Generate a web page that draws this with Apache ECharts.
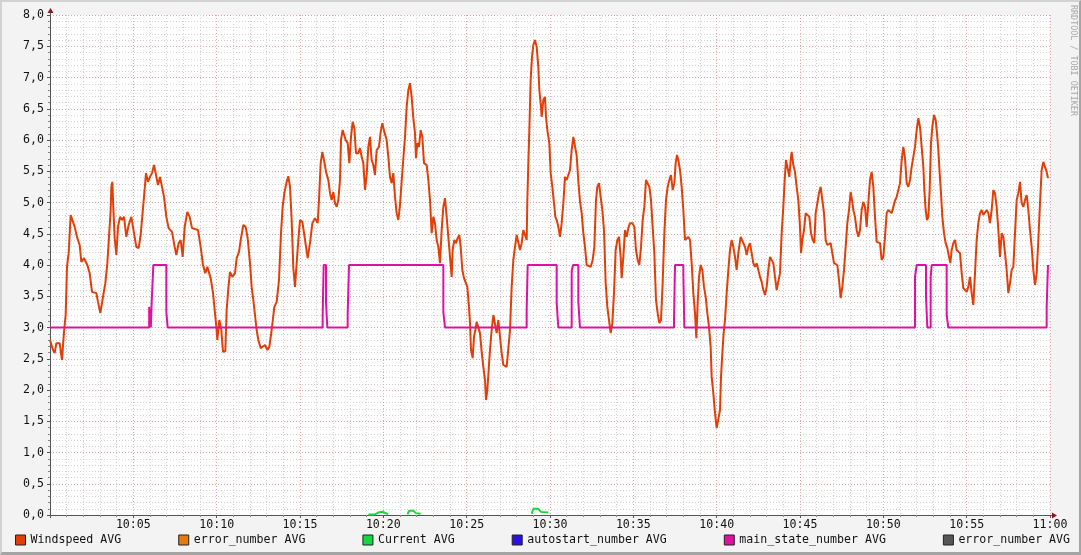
<!DOCTYPE html>
<html>
<head>
<meta charset="utf-8">
<script src="https://cdn.jsdelivr.net/npm/echarts/dist/echarts.min.js"></script>
<style>
html,body{margin:0;padding:0;background:#f3f3f3;}
#wrap{position:relative;width:1081px;height:555px;}
#c{position:absolute;left:0;top:0;width:1081px;height:555px;}
#frame{position:absolute;left:0;top:0;width:1081px;height:555px;box-sizing:border-box;border-style:solid;border-width:2px 2px 3px 2px;border-color:#d2d2d2 #a4a4a4 #a4a4a4 #d2d2d2;pointer-events:none;}
</style>
</head>
<body>
<div id="wrap"><div id="c"></div><div id="frame"></div></div>
<script>
// minutes after 10:00, value
const windspeed = [
[0,2.8],[0.08,2.77],[0.18,2.64],[0.28,2.59],[0.38,2.75],[0.58,2.75],[0.72,2.48],[0.84,2.93],[0.94,3.2],[1.02,3.97],[1.12,4.19],[1.24,4.8],[1.32,4.83],[1.48,4.61],[1.64,4.43],[1.78,4.32],[1.88,4.05],[2.04,4.11],[2.24,4.0],[2.38,3.87],[2.52,3.57],[2.78,3.55],[2.88,3.41],[3.02,3.23],[3.18,3.49],[3.32,3.71],[3.44,4.03],[3.54,4.45],[3.64,4.88],[3.68,5.25],[3.74,5.33],[3.8,4.91],[3.88,4.43],[3.98,4.16],[4.08,4.61],[4.2,4.77],[4.32,4.72],[4.44,4.77],[4.58,4.45],[4.72,4.64],[4.88,4.77],[5.04,4.51],[5.18,4.29],[5.32,4.27],[5.44,4.48],[5.64,5.09],[5.76,5.47],[5.88,5.33],[6.0,5.41],[6.12,5.47],[6.24,5.6],[6.36,5.6],[6.48,5.28],[6.6,5.41],[6.72,5.39],[6.84,5.09],[6.98,4.77],[7.12,4.59],[7.32,4.53],[7.48,4.29],[7.58,4.16],[7.72,4.35],[7.84,4.4],[7.96,4.13],[8.08,4.61],[8.24,4.85],[8.38,4.77],[8.52,4.59],[8.88,4.56],[9.04,4.29],[9.18,4.0],[9.32,3.87],[9.44,3.97],[9.64,3.79],[9.78,3.55],[9.88,3.28],[9.98,3.01],[10.04,2.8],[10.16,3.12],[10.28,2.96],[10.38,2.61],[10.52,2.62],
[10.6,3.28],[10.7,3.63],[10.8,3.89],[10.94,3.81],[11.1,3.87],[11.2,4.11],[11.34,4.21],[11.46,4.43],[11.6,4.64],[11.74,4.61],[11.86,4.43],[12.0,4.03],[12.1,3.65],[12.2,3.44],[12.3,3.2],[12.4,2.96],[12.5,2.8],[12.64,2.67],[12.76,2.67],[12.9,2.72],[13.04,2.64],[13.16,2.69],[13.3,2.96],[13.46,3.33],[13.6,3.41],[13.74,3.76],[13.86,4.51],[13.96,4.93],[14.06,5.15],[14.2,5.33],[14.3,5.42],[14.4,5.25],[14.5,4.72],[14.6,3.95],[14.7,3.65],[14.8,4.03],[14.9,4.4],[15.0,4.72],[15.14,4.69],[15.26,4.48],[15.34,4.51],[15.46,4.11],[15.6,4.35],[15.74,4.67],[15.9,4.75],[16.06,4.67],[16.14,5.04],[16.24,5.63],[16.34,5.81],[16.46,5.65],[16.56,5.49],[16.7,5.36],[16.8,5.15],[16.9,5.04],[17.0,5.17],[17.1,4.99],[17.2,4.93],[17.3,5.04],[17.4,5.36],[17.46,6.0],[17.56,6.16],[17.66,6.16],[17.74,6.0],[17.86,5.95],[17.96,5.63],[18.06,6.05],[18.16,6.29],[18.26,6.19],[18.36,5.79],[18.5,5.79],[18.6,5.87],[18.7,5.73],[18.8,5.63],[18.9,5.2],[19.0,5.44],[19.1,5.89],[19.2,6.05],[19.3,5.68],[19.4,5.6],[19.5,5.44],[19.6,5.84],[19.74,5.89],[19.84,6.13],[19.94,6.27],[20.06,6.13],[20.2,6.0],[20.3,5.73],[20.4,5.41],[20.5,5.31],[20.6,5.47],[20.7,5.09],[20.8,4.83],[20.9,4.72],[21.0,4.96],[21.1,5.34],[21.2,5.7],
[21.3,6.05],[21.4,6.53],[21.5,6.8],[21.6,6.91],[21.7,6.69],[21.8,6.35],[21.9,6.11],[21.96,5.71],[22.04,5.95],[22.14,5.89],[22.24,6.16],[22.34,6.05],[22.44,5.63],[22.6,5.6],[22.7,5.36],[22.8,5.04],[22.9,4.51],[23.0,4.77],[23.1,4.67],[23.2,4.4],[23.3,4.29],[23.4,4.03],[23.5,4.56],[23.6,4.93],[23.7,5.07],[23.8,4.77],[23.9,4.45],[24.0,4.13],[24.1,3.81],[24.16,4.24],[24.26,4.4],[24.36,4.35],[24.46,4.43],[24.56,4.48],[24.64,4.29],[24.74,3.92],[24.84,3.79],[24.94,3.76],[25.04,3.65],[25.14,3.33],[25.2,3.07],[25.26,2.64],[25.36,2.51],[25.44,2.85],[25.52,2.96],[25.6,3.09],[25.7,3.12],[25.8,2.91],[25.9,2.61],[26.0,2.37],[26.1,2.16],[26.16,1.84],[26.24,2.0],[26.32,2.32],[26.4,2.64],[26.5,2.96],[26.6,3.2],[26.7,3.2],[26.8,2.91],[26.9,3.12],[27.0,2.85],[27.1,2.59],[27.2,2.4],[27.3,2.43],[27.4,2.37],[27.5,2.35],[27.6,2.96],[27.7,3.65],[27.8,4.08],[27.9,4.29],[28.0,4.48],[28.1,4.45],[28.2,4.24],[28.3,4.35],[28.4,4.56],[28.5,4.56],[28.6,4.4],[28.64,5.04],[28.7,5.63],[28.76,6.16],[28.84,6.96],[28.92,7.33],[29.0,7.52],[29.1,7.6],[29.2,7.49],[29.3,7.17],[29.36,6.8],[29.44,6.59],[29.5,6.37],[29.6,6.64],[29.7,6.69],[29.76,6.37],[29.84,6.16],[29.96,5.95],[30.04,5.47],[30.14,5.25],[30.24,4.99],[30.32,4.77],[30.4,4.72],[30.5,4.61],[30.6,4.45],[30.7,4.67],[30.8,4.99],[30.9,5.41],[31.0,5.36],[31.1,5.36],[31.2,5.52],[31.3,5.84],[31.4,6.05],[31.5,6.03],[31.6,5.75],[31.7,5.34],[31.8,5.02],
[31.9,4.83],[32.0,4.51],[32.1,4.29],[32.2,4.0],[32.3,3.97],[32.44,3.97],[32.56,4.08],[32.66,4.29],[32.76,5.04],[32.84,5.25],[32.94,5.31],[33.04,5.09],[33.14,4.88],[33.24,4.56],[33.34,3.71],[33.44,3.33],[33.54,3.12],[33.64,2.91],[33.74,3.07],[33.84,3.55],[33.94,4.24],[34.04,4.4],[34.14,4.45],[34.24,4.13],[34.3,3.79],[34.4,4.13],[34.5,4.56],[34.6,4.45],[34.7,4.59],[34.8,4.67],[34.94,4.67],[35.06,4.61],[35.16,4.24],[35.26,4.08],[35.36,4.0],[35.46,4.29],[35.56,4.72],[35.66,4.93],[35.76,5.36],[35.86,5.33],[35.96,5.25],[36.06,5.04],[36.16,4.61],[36.26,4.19],[36.36,3.44],[36.46,3.23],[36.56,3.07],[36.66,3.12],[36.76,3.71],[36.86,4.51],[36.96,5.04],[37.06,5.25],[37.16,5.36],[37.26,5.44],[37.36,5.2],[37.46,5.31],[37.54,5.63],[37.62,5.76],[37.7,5.68],[37.8,5.52],[37.9,5.25],[38.0,4.88],[38.1,4.4],[38.2,4.37],[38.3,4.45],[38.4,4.4],[38.5,4.03],[38.6,3.55],[38.7,3.23],[38.78,2.83],[38.86,3.39],[38.94,3.81],[39.04,4.0],[39.14,3.92],[39.24,3.65],[39.34,3.49],[39.44,3.23],[39.54,3.01],[39.64,2.69],[39.7,2.21],[39.8,1.95],[39.9,1.63],[40.0,1.39],[40.1,1.36],[40.2,1.68],[40.26,2.21],[40.34,2.59],[40.42,2.91],[40.5,3.12],[40.6,3.55],[40.7,3.92],[40.8,4.24],[40.9,4.4],[41.0,4.29],[41.1,4.13],[41.2,3.92],[41.3,4.19],[41.44,4.45],[41.56,4.48],[41.7,4.29],[41.8,4.16],[41.9,4.29],[42.0,4.35],
[42.1,4.19],[42.2,4.03],[42.3,3.97],[42.4,4.03],[42.5,4.03],[42.6,3.81],[42.7,3.73],[42.8,3.6],[42.9,3.52],[43.0,3.65],[43.1,3.92],[43.2,4.13],[43.3,4.16],[43.4,4.03],[43.5,3.81],[43.6,3.6],[43.7,3.57],[43.8,3.87],[43.9,4.51],[44.0,4.93],[44.08,5.36],[44.16,5.68],[44.24,5.57],[44.36,5.41],[44.44,5.68],[44.5,5.81],[44.6,5.6],[44.7,5.49],[44.8,5.25],[44.9,5.04],[45.0,4.61],[45.06,4.19],[45.14,4.4],[45.24,4.56],[45.34,4.83],[45.46,4.83],[45.56,4.77],[45.66,4.51],[45.76,4.4],[45.86,4.35],[45.94,4.83],[46.04,4.99],[46.14,5.15],[46.24,5.25],[46.34,5.04],[46.44,4.83],[46.54,4.4],[46.64,4.32],[46.74,4.29],[46.84,4.35],[46.94,4.19],[47.04,4.03],[47.14,4.05],[47.24,4.0],[47.34,3.76],[47.44,3.47],[47.54,3.65],[47.64,3.92],[47.74,4.29],[47.84,4.67],[47.94,4.88],[48.04,5.17],[48.12,5.04],[48.2,4.88],[48.3,4.77],[48.4,4.56],[48.5,4.45],[48.6,4.56],[48.7,4.88],[48.8,5.01],[48.9,4.93],[49.0,4.61],[49.1,4.99],[49.2,5.36],[49.3,5.49],[49.4,5.25],[49.5,4.77],[49.6,4.37],[49.7,4.4],[49.8,4.35],[49.9,4.08],[50.0,4.13],[50.1,4.45],[50.2,4.83],[50.3,4.88],[50.4,4.85],[50.5,4.83],[50.6,4.83],[50.7,5.03],[50.8,5.09],[50.9,5.12],
[51.0,5.31],[51.1,5.68],[51.2,5.89],[51.3,5.71],[51.4,5.31],[51.5,5.25],[51.6,5.36],[51.7,5.57],[51.8,5.6],[51.9,5.89],[52.0,6.16],[52.1,6.35],[52.2,6.21],[52.3,5.89],[52.4,5.57],[52.46,5.2],[52.54,4.88],[52.62,4.72],[52.7,4.77],[52.78,5.2],[52.86,5.95],[52.94,6.21],[53.04,6.4],[53.14,6.32],[53.22,6.11],[53.3,5.84],[53.38,5.47],[53.46,5.15],[53.54,4.77],[53.64,4.51],[53.74,4.35],[53.84,4.27],[53.94,4.13],[54.02,4.03],[54.1,4.24],[54.2,4.35],[54.3,4.4],[54.4,4.24],[54.5,4.24],[54.6,4.19],[54.7,3.87],[54.8,3.63],[54.9,3.6],[55.0,3.57],[55.1,3.65],[55.2,3.81],[55.3,3.55],[55.4,3.36],[55.5,3.87],[55.6,4.4],[55.7,4.67],[55.8,4.83],[55.9,4.88],[56.0,4.8],[56.1,4.77],[56.2,4.88],[56.3,4.83],[56.4,4.67],[56.5,4.88],[56.6,5.2],[56.7,5.15],[56.8,4.93],[56.9,4.56],[57.0,4.13],[57.1,4.51],[57.2,4.45],[57.3,4.19],[57.4,3.92],[57.5,3.55],[57.6,3.71],[57.7,3.92],[57.8,3.97],[57.9,4.51],[58.0,5.04],[58.1,5.15],[58.2,5.33],[58.3,4.99],[58.4,4.93],[58.5,5.04],[58.6,5.12],[58.7,4.88],[58.8,4.56],[58.9,4.29],[59.0,3.92],[59.1,3.68],[59.2,3.87],[59.3,4.4],[59.4,4.99],[59.5,5.52],[59.6,5.65],[59.7,5.63],[59.8,5.49],[59.88,5.39]
];

// main_state_number: value takes effect at given minute
const mainState = [
[0,3],[5.95,3.33],[6.05,3],[6.1,3.4],[6.2,4],[6.98,3.25],[7.06,3],[16.36,3.2],[16.42,4],[16.56,3.4],[16.64,3],[17.86,3.2],[17.94,4],[23.6,3.25],[23.7,3],[28.6,3.27],[28.66,4],[30.4,3.39],[30.5,3],[31.3,3.9],[31.38,4],[31.7,3.41],[31.8,3],[37.44,3.12],[37.5,4],[38.0,3.87],[38.06,3],[51.9,3.81],[52.0,4],[52.56,3.49],[52.64,3],[52.84,3.8],[52.9,4],[53.8,3.2],[53.9,3],[59.8,3.33],[59.88,4],[59.9,4]
];

// Current: only the visible bumps above zero
const current = [
[19.1,0.01],[19.5,0.01],[19.7,0.04],[19.85,0.05],[20.0,0.05],[20.1,0.02],[20.28,0.01],[20.3,null],
[21.45,0.01],[21.55,0.07],[21.8,0.07],[21.95,0.03],[22.24,0.02],[22.3,null],
[28.9,0.02],[29.0,0.1],[29.3,0.1],[29.45,0.05],[29.9,0.04]
];

const legendNames = ['Windspeed AVG','error_number AVG','Current AVG','autostart_number AVG','main_state_number AVG','error_number AVG '];
const seriesColors = ['#e23e08','#e67a0c','#14d840','#2c10e0','#e010a4','#555555'];

const FONT = 'DejaVu Sans Mono';
const chart = echarts.init(document.getElementById('c'));
function pad2(n){return (n<10?'0':'')+n;}

const series = [
  {name:legendNames[0], type:'line', data:windspeed, showSymbol:false, color:seriesColors[0], lineStyle:{width:2}, z:3},
  {name:legendNames[1], type:'line', data:[], showSymbol:false, color:seriesColors[1]},
  {name:legendNames[2], type:'line', data:current, showSymbol:false, connectNulls:false, color:seriesColors[2], lineStyle:{width:2}, z:4},
  {name:legendNames[3], type:'line', data:[], showSymbol:false, color:seriesColors[3]},
  {name:legendNames[4], type:'line', data:mainState, step:'end', showSymbol:false, color:seriesColors[4], lineStyle:{width:2}, z:5},
  {name:legendNames[5], type:'line', data:[], showSymbol:false, color:seriesColors[5]}
];

chart.setOption({
  animation:false,
  backgroundColor:'#f3f3f3',
  textStyle:{fontFamily:FONT},
  grid:{left:50, top:15, width:1000, height:500, show:true, backgroundColor:'#ffffff', borderWidth:0},
  legend:{
    left:15, top:534, padding:0, itemGap:57, itemWidth:10, itemHeight:10, icon:'rect',
    itemStyle:{borderColor:'#222', borderWidth:1},
    textStyle:{fontFamily:FONT, fontSize:11.6, color:'#111'},
    formatter:function(n){return n.trim();},
    selectedMode:false,
    data:legendNames
  },
  xAxis:{
    type:'value', min:0, max:60, interval:5,
    axisLine:{show:true, lineStyle:{color:'#555', width:1}},
    axisTick:{show:true, length:3, lineStyle:{color:'#555'}},
    minorTick:{show:true, splitNumber:5, length:2, lineStyle:{color:'#888'}},
    axisLabel:{fontFamily:FONT, fontSize:11.6, color:'#111', margin:4,
      formatter:function(v){ if(v===0) return ''; if(v===60) return '11:00'; return '10:'+pad2(v);} },
    splitLine:{show:true, lineStyle:{color:'#e6a4a4', width:1, type:[1,2]}},
    minorSplitLine:{show:true, lineStyle:{color:'#d2d2d2', width:1, type:[1,2]}}
  },
  yAxis:{
    type:'value', min:0, max:8, interval:0.5,
    axisLine:{show:true, lineStyle:{color:'#555', width:1}},
    axisTick:{show:true, length:3, lineStyle:{color:'#555'}},
    minorTick:{show:true, splitNumber:5, length:2, lineStyle:{color:'#888'}},
    axisLabel:{fontFamily:FONT, fontSize:11.6, color:'#111', margin:6,
      formatter:function(v){return v.toFixed(1).replace('.',',');}},
    splitLine:{show:true, lineStyle:{color:'#e6a4a4', width:1, type:[1,2]}},
    minorSplitLine:{show:true, lineStyle:{color:'#d2d2d2', width:1, type:[1,2]}}
  },
  graphic:[
    {type:'line', shape:{x1:50.5, y1:15, x2:50.5, y2:10}, style:{stroke:'#555', lineWidth:1}},
    {type:'polygon', shape:{points:[[47.5,13],[53.5,13],[50.5,8]]}, style:{fill:'#8b1a1a'}},
    {type:'line', shape:{x1:1050, y1:515.5, x2:1054, y2:515.5}, style:{stroke:'#555', lineWidth:1}},
    {type:'polygon', shape:{points:[[1052,512.5],[1052,518.5],[1057,515.5]]}, style:{fill:'#8b1a1a'}},
    {type:'text', x:1073, y:5, rotation:-Math.PI/2,
      style:{text:'RRDTOOL / TOBI OETIKER', fontFamily:FONT, fontSize:8.4, fill:'#a8a8a8', textAlign:'left', textVerticalAlign:'middle'}}
  ],
  series:series
});
</script>
</body>
</html>
